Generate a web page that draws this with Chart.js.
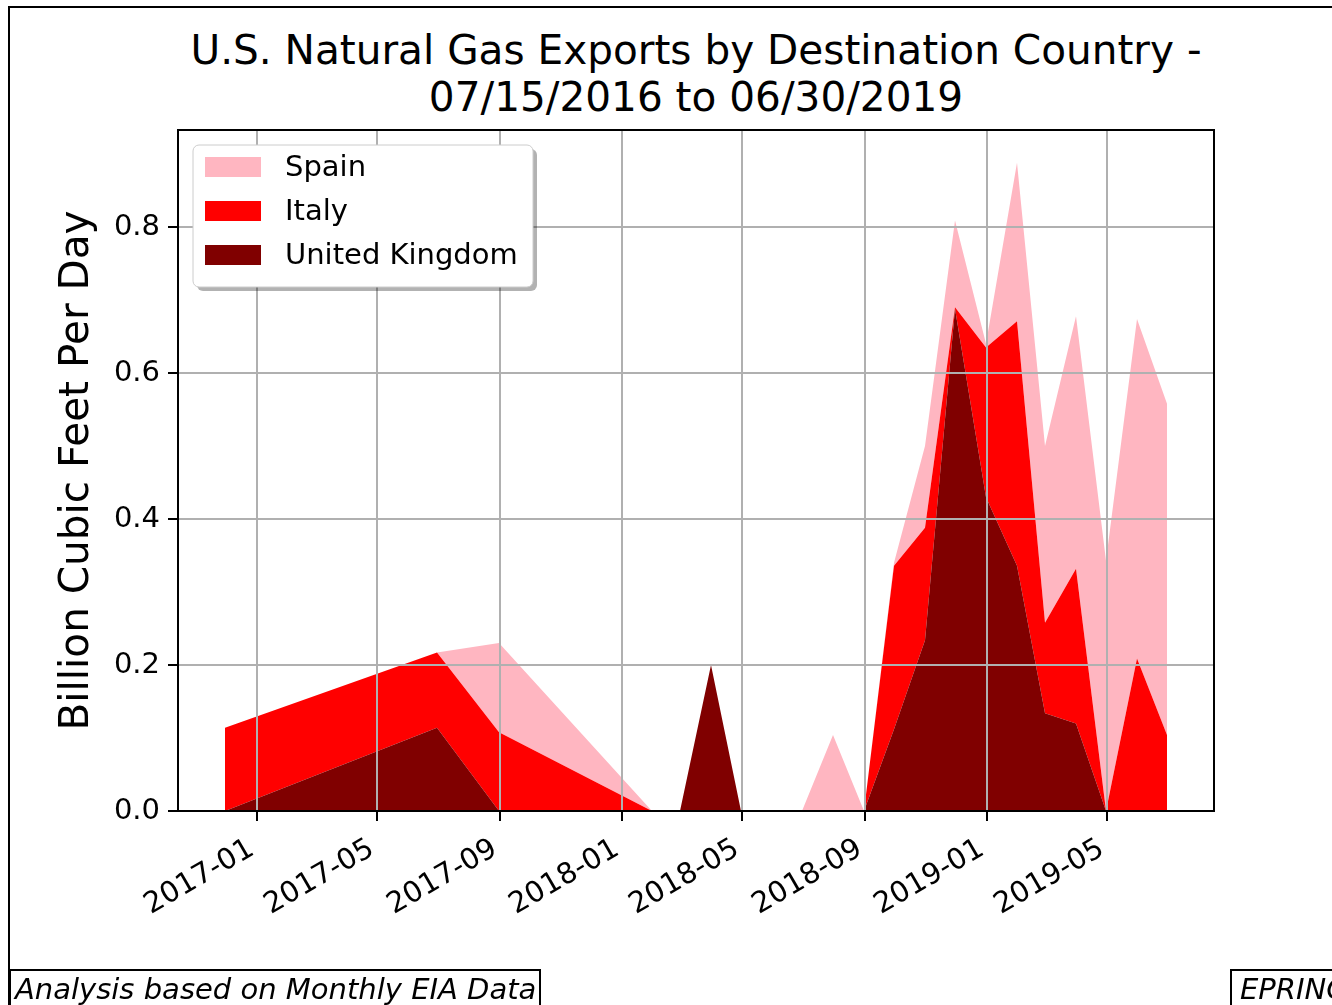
<!DOCTYPE html>
<html>
<head>
<meta charset="utf-8">
<script src="https://cdn.jsdelivr.net/npm/chart.js@4.4.1/dist/chart.umd.min.js"></script>
<style>
  html, body {
    margin: 0;
    padding: 0;
    background: #fff;
    width: 1332px;
    height: 1005px;
    overflow: hidden;
    position: relative;
    font-family: 'DejaVu Sans', sans-serif;
  }
  #frame {
    position: absolute;
    left: 8px;
    top: 6px;
    width: 1400px;
    height: 1100px;
    border-top: 2px solid #000;
    border-left: 2px solid #000;
  }
  #title {
    position: absolute;
    left: 0;
    top: 27px;
    width: 1392px;
    text-align: center;
    white-space: pre;
    font-size: 40.6px;
    line-height: 47px;
    color: #000;
  }
  #chart {
    position: absolute;
    left: 0;
    top: 0;
  }
  .note {
    position: absolute;
    top: 969px;
    height: 60px;
    box-sizing: border-box;
    border: 2px solid #000;
    font-style: italic;
    font-size: 29px;
    line-height: 36px;
    padding-left: 4px;
    white-space: nowrap;
    color: #000;
  }
</style>
</head>
<body>
<div id="frame"></div>
<div id="title">U.S. Natural Gas Exports by Destination Country -
07/15/2016 to 06/30/2019</div>
<canvas id="chart" width="1332" height="1005"></canvas>
<div class="note" style="left:9px;width:532px;">Analysis based on Monthly EIA Data</div>
<div class="note" style="left:1230px;width:200px;padding-left:8px;">EPRINC</div>

<script>
// month-end dates that have data (missing months are simply joined)
const dates = [
    '2016-11-30', '2017-06-30', '2017-08-31', '2018-01-31', '2018-02-28',
    '2018-03-31', '2018-04-30', '2018-06-30', '2018-07-31', '2018-08-31',
    '2018-09-30', '2018-10-31', '2018-11-30', '2018-12-31', '2019-01-31',
    '2019-02-28', '2019-03-31', '2019-04-30', '2019-05-31', '2019-06-30'
];

// Billion cubic feet per day, per country (stacked: UK, Italy, Spain)
const unitedKingdom = [0, 0.114, 0, 0, 0, 0.200, 0, 0, 0, 0, 0.112, 0.234, 0.688, 0.430, 0.336, 0.134, 0.120, 0, 0, 0];
const italy = [0.114, 0.103, 0.108, 0, 0, 0, 0, 0, 0, 0, 0.224, 0.154, 0.002, 0.205, 0.335, 0.124, 0.212, 0, 0.209, 0.104];
const spain = [0, 0, 0.122, 0, 0, 0, 0, 0, 0.104, 0, 0.004, 0.112, 0.119, 0.005, 0.217, 0.242, 0.346, 0.343, 0.465, 0.454];

// axis ticks
const xTickDates = ['2017-01-01', '2017-05-01', '2017-09-01', '2018-01-01', '2018-05-01', '2018-09-01', '2019-01-01', '2019-05-01'];
const xTickLabels = ['2017-01', '2017-05', '2017-09', '2018-01', '2018-05', '2018-09', '2019-01', '2019-05'];
const yTicks = [0, 0.2, 0.4, 0.6, 0.8];
const xMin = '2016-10-14';
const xMax = '2019-08-16';
const yMax = 0.933;

const dayNum = s => {
    const p = s.split('-').map(Number);
    return Date.UTC(p[0], p[1] - 1, p[2]) / 86400000;
};

const series = (vals) => dates.map((d, i) => ({ x: dayNum(d), y: vals[i] }));

const font = 'DejaVu Sans';

// rounded rect path helper
function roundPath(ctx, x, y, w, h, r) {
    ctx.beginPath();
    ctx.moveTo(x + r, y);
    ctx.arcTo(x + w, y, x + w, y + h, r);
    ctx.arcTo(x + w, y + h, x, y + h, r);
    ctx.arcTo(x, y + h, x, y, r);
    ctx.arcTo(x, y, x + w, y, r);
    ctx.closePath();
}

// spines + matplotlib style legend inside the axes
const axesDecor = {
    id: 'axesDecor',
    afterDraw(chart) {
        const ctx = chart.ctx;
        const a = chart.chartArea;
        ctx.save();
        ctx.strokeStyle = '#000';
        ctx.lineWidth = 2;
        ctx.strokeRect(a.left, a.top, a.right - a.left, a.bottom - a.top);

        const lx = a.left + 15, ly = a.top + 15, lw = 340, lh = 142;
        ctx.fillStyle = 'rgba(0,0,0,0.3)';
        roundPath(ctx, lx + 4, ly + 4, lw, lh, 6);
        ctx.fill();
        ctx.fillStyle = '#fff';
        roundPath(ctx, lx, ly, lw, lh, 6);
        ctx.fill();
        ctx.strokeStyle = '#cccccc';
        ctx.lineWidth = 1;
        ctx.stroke();

        const items = chart.data.datasets.slice().reverse();
        ctx.font = '29px "' + font + '"';
        ctx.textBaseline = 'middle';
        ctx.textAlign = 'left';
        items.forEach((ds, i) => {
            const rowY = ly + 12 + i * 44;
            ctx.fillStyle = ds.backgroundColor;
            ctx.fillRect(lx + 12, rowY, 56, 20);
            ctx.fillStyle = '#000';
            ctx.fillText(ds.label, lx + 92, rowY + 11);
        });
        ctx.restore();
    }
};

new Chart(document.getElementById('chart'), {
    type: 'line',
    data: {
        datasets: [
            { label: 'United Kingdom', data: series(unitedKingdom), backgroundColor: '#800000', fill: 'origin' },
            { label: 'Italy', data: series(italy), backgroundColor: '#ff0000', fill: '-1' },
            { label: 'Spain', data: series(spain), backgroundColor: '#ffb6c1', fill: '-1' }
        ]
    },
    options: {
        responsive: false,
        animation: false,
        events: [],
        layout: { padding: { top: 130, right: 118, bottom: 0, left: 0 } },
        elements: {
            line: { borderWidth: 0, borderColor: 'rgba(0,0,0,0)', tension: 0 },
            point: { radius: 0 }
        },
        plugins: {
            legend: { display: false },
            tooltip: { enabled: false },
            title: { display: false }
        },
        scales: {
            x: {
                type: 'linear',
                min: dayNum(xMin),
                max: dayNum(xMax),
                afterBuildTicks: (scale) => {
                    scale.ticks = xTickDates.map(d => ({ value: dayNum(d) }));
                },
                afterFit: (scale) => { scale.height = 194; },
                grid: {
                    z: 1,
                    color: '#b0b0b0',
                    lineWidth: 2,
                    tickColor: '#000',
                    tickWidth: 2,
                    tickLength: 10
                },
                border: { display: false },
                ticks: {
                    autoSkip: false,
                    minRotation: 30,
                    maxRotation: 30,
                    padding: 11,
                    labelOffset: -5,
                    color: '#000',
                    font: { family: font, size: 29 },
                    callback: (v, i) => xTickLabels[i]
                }
            },
            y: {
                stacked: true,
                min: 0,
                max: yMax,
                afterBuildTicks: (scale) => {
                    scale.ticks = yTicks.map(v => ({ value: v }));
                },
                afterFit: (scale) => { scale.width = 178; },
                grid: {
                    z: 1,
                    color: '#b0b0b0',
                    lineWidth: 2,
                    tickColor: '#000',
                    tickWidth: 2,
                    tickLength: 10
                },
                border: { display: false },
                ticks: {
                    padding: 8,
                    color: '#000',
                    font: { family: font, size: 29 },
                    callback: (v) => v.toFixed(1)
                },
                title: {
                    display: true,
                    text: 'Billion Cubic Feet Per Day',
                    color: '#000',
                    font: { family: font, size: 40.6 },
                    padding: { top: 53, bottom: 0 }
                }
            }
        }
    },
    plugins: [axesDecor]
});
</script>
</body>
</html>
